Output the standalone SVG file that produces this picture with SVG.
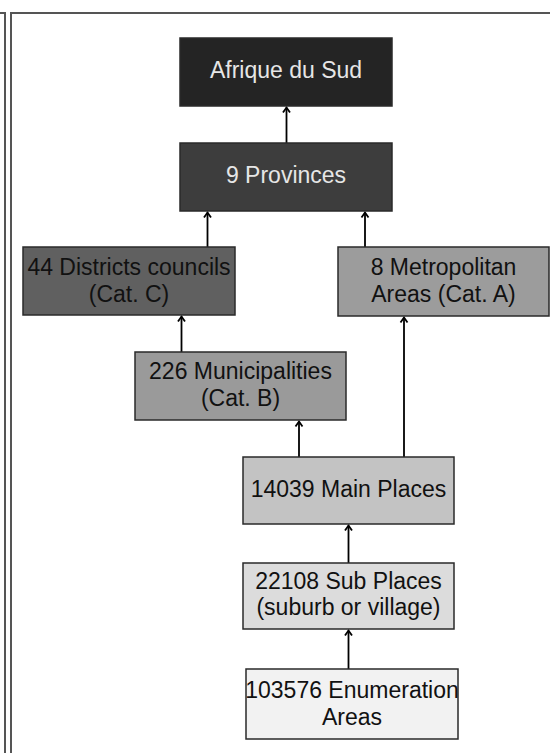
<svg xmlns="http://www.w3.org/2000/svg" width="550" height="753" viewBox="0 0 550 753">
<style>
.box{stroke:#2a2a2a;stroke-width:1.5}
.t{font-family:"Liberation Sans",Arial,sans-serif;font-size:23px;text-anchor:middle;fill:#111}
.tl{fill:#e6e6e6}
.frame{fill:none;stroke:#555;stroke-width:2}
.conn{stroke:#000;stroke-width:1.8;fill:none}
</style>
<defs>
<marker id="arr" markerUnits="userSpaceOnUse" markerWidth="12" markerHeight="12" viewBox="-6 -6 12 12" refX="0" refY="0" orient="auto" overflow="visible">
<path d="M-5,-3.5 L0,0 L-5,3.5" fill="none" stroke="#000" stroke-width="1.8"/>
</marker>
<clipPath id="clipEnum"><rect x="246" y="669" width="212" height="70"/></clipPath>
</defs>
<rect width="550" height="753" fill="#fff"/>
<g id="frames">
<path class="frame" d="M0,13 H5 V753"/>
<path class="frame" d="M11,753 V13 H550"/>
</g>
<g id="connectors">
<line class="conn" x1="286.5" y1="143" x2="286.5" y2="107.5" marker-end="url(#arr)"/>
<line class="conn" x1="207.5" y1="247" x2="207.5" y2="212.5" marker-end="url(#arr)"/>
<line class="conn" x1="365" y1="247" x2="365" y2="212.5" marker-end="url(#arr)"/>
<line class="conn" x1="181.5" y1="352" x2="181.5" y2="316.5" marker-end="url(#arr)"/>
<line class="conn" x1="299" y1="457" x2="299" y2="421.5" marker-end="url(#arr)"/>
<line class="conn" x1="404" y1="457" x2="404" y2="317.5" marker-end="url(#arr)"/>
<line class="conn" x1="348.5" y1="563" x2="348.5" y2="525.5" marker-end="url(#arr)"/>
<line class="conn" x1="348.5" y1="669" x2="348.5" y2="630.5" marker-end="url(#arr)"/>
</g>
<g id="afrique">
<rect class="box" x="180" y="38" width="212" height="68" fill="#242424"/>
<text class="t tl" x="286" y="78">Afrique du Sud</text>
</g>
<g id="provinces">
<rect class="box" x="180" y="143" width="212" height="68" fill="#3d3d3d"/>
<text class="t tl" x="286" y="183">9 Provinces</text>
</g>
<g id="districts">
<rect class="box" x="23" y="247" width="212" height="68" fill="#606060"/>
<text class="t" x="129" y="275">44 Districts councils</text>
<text class="t" x="129" y="302">(Cat. C)</text>
</g>
<g id="metro">
<rect class="box" x="338" y="247" width="211" height="69" fill="#9c9c9c"/>
<text class="t" x="443.5" y="275">8 Metropolitan</text>
<text class="t" x="443.5" y="302">Areas (Cat. A)</text>
</g>
<g id="municipalities">
<rect class="box" x="135" y="352" width="211" height="68" fill="#9a9a9a"/>
<text class="t" x="240.5" y="379">226 Municipalities</text>
<text class="t" x="240.5" y="406">(Cat. B)</text>
</g>
<g id="mainplaces">
<rect class="box" x="243" y="457" width="211" height="67" fill="#c3c3c3"/>
<text class="t" x="348.5" y="497">14039 Main Places</text>
</g>
<g id="subplaces">
<rect class="box" x="243" y="563" width="211" height="66" fill="#dcdcdc"/>
<text class="t" x="348.5" y="589">22108 Sub Places</text>
<text class="t" x="348.5" y="615">(suburb or village)</text>
</g>
<g id="enumeration">
<rect class="box" x="246" y="669" width="212" height="70" fill="#f2f2f2"/>
<g clip-path="url(#clipEnum)">
<text class="t" x="352" y="698">103576 Enumeration</text>
<text class="t" x="352" y="725">Areas</text>
</g>
</g>
</svg>
